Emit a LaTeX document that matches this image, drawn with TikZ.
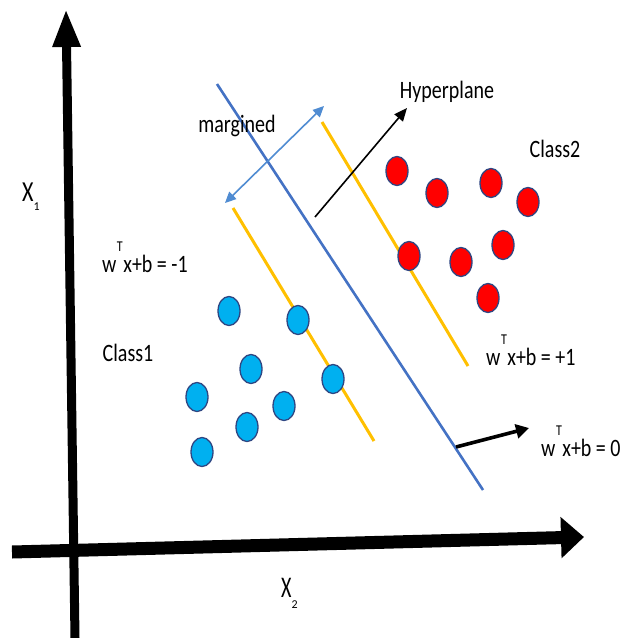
\documentclass[tikz,border=0pt]{standalone}
\usepackage{fontspec}
\setmainfont{Carlito}
\usetikzlibrary{arrows.meta,shapes.geometric}
\definecolor{hypblue}{RGB}{68,114,196}
\definecolor{margyellow}{RGB}{255,192,0}
\definecolor{margarrow}{RGB}{80,140,210}
\definecolor{dotblue}{RGB}{0,176,240}
\definecolor{dotred}{RGB}{255,0,0}
\definecolor{dotedge}{RGB}{47,70,130}
\newcommand{\vs}[1]{\scalebox{1}[1.25]{#1}}
\newcommand{\wT}{w\hspace{0.5pt}\raisebox{17pt}{\fontsize{12}{12}\selectfont T}\hspace{0.5pt}}
\begin{document}
\begin{tikzpicture}[x=1pt,y=-1pt,
  lab/.style={inner sep=0pt,font=\fontsize{20}{20}\selectfont},
  bdot/.style={draw=dotedge,line width=1.3pt,fill=dotblue,ellipse,minimum width=22pt,minimum height=29pt,inner sep=0pt},
  rdot/.style={draw=dotedge,line width=1.3pt,fill=dotred,ellipse,minimum width=22pt,minimum height=29pt,inner sep=0pt},
  ]
\useasboundingbox[fill=white] (0,0) rectangle (632,638);
% axes
\coordinate (ybot) at (75,638);
\coordinate (ytop) at (66,9);
\coordinate (xleft) at (12,552);
\coordinate (xright) at (584,537);
\draw[line width=9pt,-{Triangle[length=38pt,width=26pt]}] (ybot) -- (ytop);
\draw[line width=13pt,-{Triangle[length=23pt,width=40pt]}] (xleft) -- (xright);
% hyperplane and margins
\coordinate (h1) at (217,84);
\coordinate (h2) at (483,490);
\coordinate (u1) at (322,122);
\coordinate (u2) at (468,366);
\coordinate (l1) at (233,208);
\coordinate (l2) at (374,441);
\draw[margyellow,line width=3pt] (u1) -- (u2);
\draw[margyellow,line width=3pt] (l1) -- (l2);
\draw[hypblue,line width=2.6pt] (h1) -- (h2);
% margin arrow
\coordinate (m1) at (324,106);
\coordinate (m2) at (225,203);
\draw[margarrow,line width=1.6pt,{Triangle[length=11pt,width=10pt]}-{Triangle[length=11pt,width=10pt]}] (m2) -- (m1);
% hyperplane label arrow
\coordinate (ha1) at (315,217);
\coordinate (ha2) at (407,108);
\draw[black,line width=1.6pt,-{Triangle[length=13pt,width=11pt]}] (ha1) -- (ha2);
% w^T x + b = 0 arrow
\coordinate (za1) at (456,447);
\coordinate (za2) at (529,428);
\draw[black,line width=3.6pt,-{Triangle[length=13pt,width=14pt]}] (za1) -- (za2);
% blue dots
\node[bdot] (b1) at (229,311) {};
\node[bdot] (b2) at (298,320) {};
\node[bdot] (b3) at (251,369) {};
\node[bdot] (b4) at (333,379) {};
\node[bdot] (b5) at (197,397) {};
\node[bdot] (b6) at (284,406) {};
\node[bdot] (b7) at (247,427) {};
\node[bdot] (b8) at (202,452) {};
% red dots
\node[rdot] (r1) at (397,171) {};
\node[rdot] (r2) at (437,193) {};
\node[rdot] (r3) at (491,183) {};
\node[rdot] (r4) at (528,202) {};
\node[rdot] (r5) at (409,256) {};
\node[rdot] (r6) at (461,262) {};
\node[rdot] (r7) at (503,245) {};
\node[rdot] (r8) at (488,298) {};
% labels
\node[lab] (thyp) at (447,92) {\vs{Hyperplane}};
\node[lab] (tmarg) at (237,126) {\vs{margined}};
\node[lab] (tc2) at (555,149) {\vs{Class2}};
\node[lab] (tc1) at (128,353) {\vs{Class1}};
\node[lab,anchor=west] (eqm) at (102,257) {\vs{\wT x+b = -1}};
\node[lab,anchor=west] (eqp) at (486,350) {\vs{\wT x+b = +1}};
\node[lab,anchor=west] (eqz) at (541,441) {\vs{\wT x+b = 0}};
\node[lab,anchor=west] (tx1) at (22,197) {\scalebox{1.1}[1.45]{X}\raisebox{-9pt}{\fontsize{12}{12}\selectfont 1}};
\node[lab,anchor=west] (tx2) at (281,593) {\scalebox{1}[1.5]{X}\raisebox{-11pt}{\fontsize{12}{12}\selectfont 2}};
\end{tikzpicture}
\end{document}
